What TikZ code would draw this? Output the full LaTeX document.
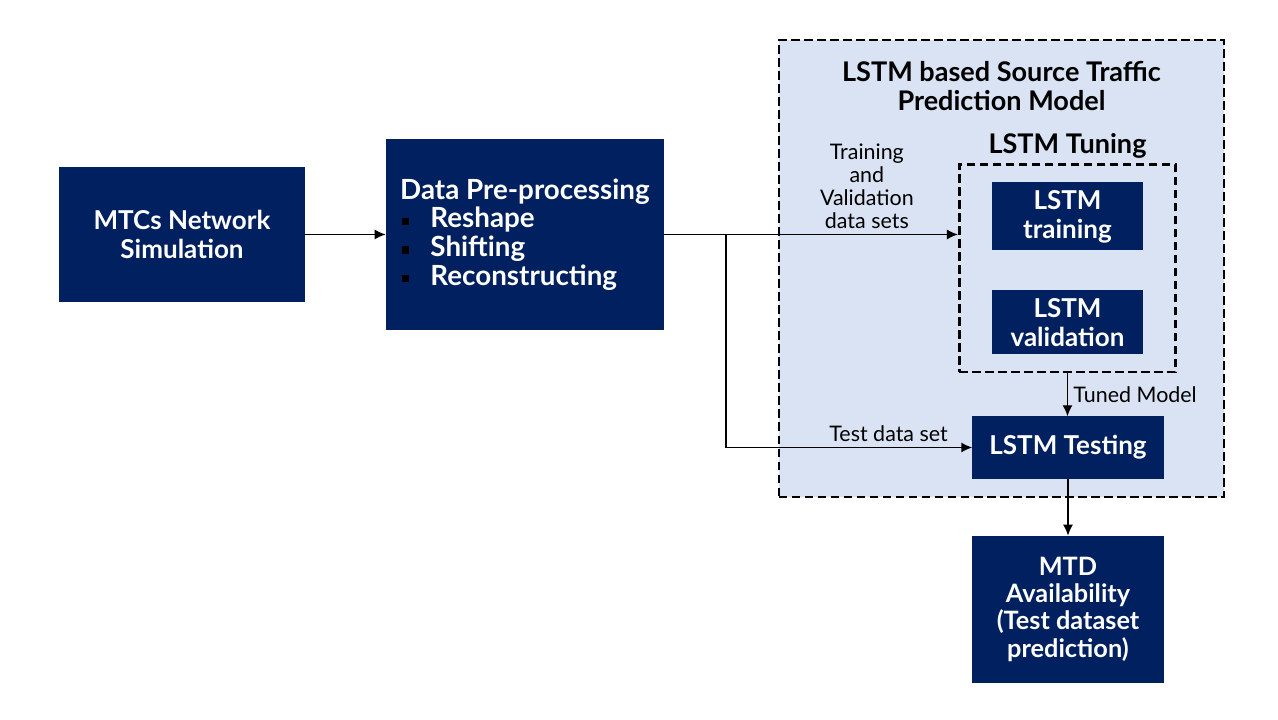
\documentclass[tikz,border=0pt]{standalone}
\usepackage{fontspec}
\setmainfont{Lato}
\usepackage{tikz}
\usetikzlibrary{arrows.meta, positioning, calc, fit, backgrounds}

\definecolor{navy}{HTML}{002060}
\definecolor{panel}{HTML}{DAE3F3}
\newcommand{\sqitem}{\hspace*{0.6pt}\textcolor{black}{\rule[0.9pt]{2pt}{2pt}}\hspace{6pt}}

\begin{document}
\begin{tikzpicture}[
                box/.style={draw=navy, fill=navy, text=white, align=center, font=\fontsize{7.4}{8.2}\selectfont\bfseries, inner sep=2pt},
                arrow/.style={-{Latex[length=1.1mm, width=1mm]}, line width=0.4pt},
                frame/.style={draw, dashed, line width=0.75pt, dash pattern=on 2.4pt off 1.3pt},
                lbl/.style={font=\fontsize{6.1}{6.5}\selectfont, align=center, inner sep=1.5pt},
                head/.style={font=\fontsize{7.7}{8.3}\selectfont\bfseries, align=center}]

                \useasboundingbox (0,0) rectangle (12.78,7.20);

                % Model panel
                \node[frame, fill=panel, minimum width=4.45cm, minimum height=4.57cm] (model) at (10.015,4.515) {};
                \node[head, below=0.1cm of model.north] (title) {LSTM based Source Traffic\\Prediction Model};

                % Entities
                \node[box, minimum width=2.44cm, minimum height=1.33cm] (mtc) at (1.82,4.855) {MTCs Network\\Simulation};
                \node[box, align=left, minimum width=2.77cm, minimum height=1.89cm, right=0.81cm of mtc,
                    font=\fontsize{7.9}{8.2}\selectfont\bfseries] (data)
                    {Data Pre-processing\\\sqitem Reshape\\\sqitem Shifting\\\sqitem Reconstructing};
                \node[box, minimum width=1.49cm, minimum height=0.61cm] (train) at (10.675,5.035) {LSTM\\training};
                \node[box, minimum width=1.49cm, minimum height=0.61cm, below=0.40cm of train] (valid) {LSTM\\validation};
                \node[frame, fit=(train)(valid), inner xsep=0.33cm, inner ysep=0.18cm] (tuning) {};
                \node[head, above=-0.08cm of tuning] (tunelbl) {LSTM Tuning};
                \node[box, minimum width=1.90cm, minimum height=0.61cm] (test) at (10.68,2.725) {LSTM Testing};
                \node[box, minimum width=1.90cm, minimum height=1.46cm, below=0.57cm of test, font=\fontsize{7.2}{7.7}\selectfont\bfseries] (mtd)
                    {MTD\\Availability\\(Test dataset\\prediction)};

                % Arrows
                \draw[arrow] (mtc) -- (data);
                \draw[arrow] (data.east) -- (data.east -| tuning.west)
                    node[lbl, pos=0.69, above] {Training\\and\\Validation\\data sets};
                \coordinate (split) at ($(data.east)+(0.62,0)$);
                \draw[arrow] (split) |- (test.west) node[lbl, pos=0.83, above] {Test data set};
                \draw[arrow] (tuning.south) -- (tuning.south |- test.north) node[lbl, midway, right] {Tuned Model};
                \draw[arrow] (test) -- (mtd);
            \end{tikzpicture}
\end{document}
